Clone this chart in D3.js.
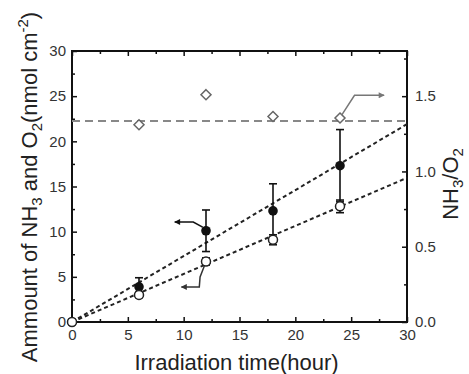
<!DOCTYPE html>
<html>
<head>
<meta charset="utf-8">
<script src="https://cdn.jsdelivr.net/npm/d3@7"></script>
<style>
  body { margin: 0; background: #fff; }
  svg { font-family: "Liberation Sans", Arial, sans-serif; }
  .tick text { fill: #333; font-size: 15px; }
  .tick line { stroke: #111; stroke-width: 1.5; }
</style>
</head>
<body>
<div id="vis"></div>
<script>
// values
var times = [0, 6, 12, 18, 24];
var nh3 = [0, 3.9, 10.1, 12.3, 17.3];
var nh3Err = [0, 1.0, 2.3, 3.0, 4.0];
var o2 = [0, 3.0, 6.7, 9.1, 12.8];
var o2Err = [0, 0.3, 0.4, 0.55, 0.7];
var ratioTimes = [6, 12, 18, 24];
var ratio = [1.31, 1.51, 1.365, 1.355];
var ratioMean = 1.335;
var nh3Slope = 0.73, o2Slope = 0.532;
var xTicks = [0, 5, 10, 15, 20, 25, 30];
var yTicks = [0, 5, 10, 15, 20, 25, 30];
var rTicks = [0, 0.5, 1.0, 1.5];
// annotation arrows (data coords, left axis)
var nh3Arrow = [[11.7, 10.5], [10.86, 11.07], [9.2, 11.07]];
var o2Arrow = [[11.85, 6.2], [11.47, 4.98], [11.4, 3.88], [9.8, 3.88]];
var ratioArrow = [[24.15, 22.9], [25.3, 25.1], [27.95, 25.1]];

var margin = {top: 51, right: 62, bottom: 52, left: 72},
    w = 469, h = 374,
    pw = w - margin.left - margin.right,
    ph = h - margin.top - margin.bottom;

var svg = d3.select("#vis").append("svg")
    .attr("width", w)
    .attr("height", h);

var defs = svg.append("defs");
function arrowHead(id, color) {
  defs.append("marker")
    .attr("id", id)
    .attr("viewBox", "0 0 10 10")
    .attr("refX", 9).attr("refY", 5)
    .attr("markerWidth", 9).attr("markerHeight", 6)
    .attr("markerUnits", "userSpaceOnUse")
    .attr("orient", "auto")
    .append("path").attr("d", "M0,0L10,5L0,10Z").attr("fill", color);
}
arrowHead("ahBlack", "#111");
arrowHead("ahDark", "#333");
arrowHead("ahGray", "#777");

var g = svg.append("g").attr("transform", "translate(" + margin.left + "," + margin.top + ")");

var x = d3.scaleLinear().domain([0, 30]).range([0, pw]);
var y = d3.scaleLinear().domain([0, 30]).range([ph, 0]);
var yr = d3.scaleLinear().domain([0, 1.8]).range([ph, 0]);

function minor(sc, step) {
  return d3.range(sc.domain()[0] + step, sc.domain()[1], step * 2);
}

// minor ticks
g.append("g").attr("transform", "translate(0," + ph + ")")
  .call(d3.axisBottom(x).tickValues(minor(x, 2.5)).tickSize(-3).tickFormat(""));
g.append("g")
  .call(d3.axisTop(x).tickValues(minor(x, 2.5)).tickSize(-3).tickFormat(""));
g.append("g")
  .call(d3.axisLeft(y).tickValues(minor(y, 2.5)).tickSize(-3).tickFormat(""));
g.append("g").attr("transform", "translate(" + pw + ",0)")
  .call(d3.axisRight(yr).tickValues(minor(yr, 0.25)).tickSize(-3).tickFormat(""));

// major ticks
g.append("g").attr("transform", "translate(0," + ph + ")")
  .call(d3.axisBottom(x).tickValues(xTicks).tickSize(-5).tickPadding(7).tickFormat(d3.format("d")));
g.append("g")
  .call(d3.axisTop(x).tickValues(xTicks).tickSize(-5).tickFormat(""));
g.append("g")
  .call(d3.axisLeft(y).tickValues(yTicks).tickSize(-5).tickPadding(6).tickFormat(d3.format("d")));
g.append("g").attr("transform", "translate(" + pw + ",0)")
  .call(d3.axisRight(yr).tickValues(rTicks).tickSize(-5).tickPadding(8).tickFormat(d3.format(".1f")));

g.selectAll(".domain").remove();

// frame
g.append("rect")
  .attr("width", pw).attr("height", ph)
  .attr("fill", "none").attr("stroke", "#111").attr("stroke-width", 2);

// mean ratio line
g.append("line")
  .attr("x1", x(0)).attr("x2", x(30))
  .attr("y1", yr(ratioMean)).attr("y2", yr(ratioMean))
  .attr("stroke", "#888").attr("stroke-width", 2)
  .attr("stroke-dasharray", "8,5");

// fit lines
[nh3Slope, o2Slope].forEach(function(s) {
  g.append("line")
    .attr("x1", x(0)).attr("y1", y(0))
    .attr("x2", x(30)).attr("y2", y(s * 30))
    .attr("stroke", "#222").attr("stroke-width", 2)
    .attr("stroke-dasharray", "4,3");
});

// error bars
function errBars(vals, errs) {
  var eb = g.append("g").attr("stroke", "#111").attr("stroke-width", 1.6);
  times.forEach(function(t, i) {
    if (!errs[i]) return;
    var x0 = x(t), y1 = y(vals[i] + errs[i]), y2 = y(vals[i] - errs[i]);
    eb.append("line").attr("x1", x0).attr("x2", x0).attr("y1", y1).attr("y2", y2);
    eb.append("line").attr("x1", x0 - 4).attr("x2", x0 + 4).attr("y1", y1).attr("y2", y1);
    eb.append("line").attr("x1", x0 - 4).attr("x2", x0 + 4).attr("y1", y2).attr("y2", y2);
  });
}
errBars(nh3, nh3Err);
errBars(o2, o2Err);

// filled circles (NH3)
g.selectAll("circle.nh3")
  .data(times.map(function(t, i) { return [t, nh3[i]]; }))
  .enter().append("circle")
  .attr("class", "nh3")
  .attr("cx", function(d) { return x(d[0]); })
  .attr("cy", function(d) { return y(d[1]); })
  .attr("r", 4.8)
  .attr("fill", "#111");

// open circles (O2)
g.selectAll("circle.o2")
  .data(times.map(function(t, i) { return [t, o2[i]]; }))
  .enter().append("circle")
  .attr("class", "o2")
  .attr("cx", function(d) { return x(d[0]); })
  .attr("cy", function(d) { return y(d[1]); })
  .attr("r", 4.5)
  .attr("fill", "#fff").attr("stroke", "#222").attr("stroke-width", 1.5);

// diamonds (ratio)
g.selectAll("path.ratio")
  .data(ratioTimes.map(function(t, i) { return [t, ratio[i]]; }))
  .enter().append("path")
  .attr("class", "ratio")
  .attr("d", "M0,-5L5,0L0,5L-5,0Z")
  .attr("transform", function(d) { return "translate(" + x(d[0]) + "," + yr(d[1]) + ")"; })
  .attr("fill", "#fff").attr("stroke", "#666").attr("stroke-width", 1.5);

// arrows
var line = d3.line().x(function(d) { return x(d[0]); }).y(function(d) { return y(d[1]); });
function arrow(pts, color, mk) {
  g.append("path").attr("d", line(pts))
    .attr("fill", "none").attr("stroke", color).attr("stroke-width", 1.5)
    .attr("marker-end", "url(#" + mk + ")");
}
arrow(nh3Arrow, "#111", "ahBlack");
arrow(o2Arrow, "#333", "ahDark");
arrow(ratioArrow, "#777", "ahGray");

// axis titles
svg.append("text")
  .attr("x", margin.left + pw / 2 - 3).attr("y", 370)
  .attr("text-anchor", "middle")
  .attr("font-size", 22).attr("fill", "#222")
  .text("Irradiation time(hour)");

var lt = svg.append("text")
  .attr("transform", "translate(37,187) rotate(-90)")
  .attr("text-anchor", "middle")
  .attr("font-size", 22).attr("fill", "#222");
lt.append("tspan").text("Ammount of NH");
lt.append("tspan").attr("font-size", 15).attr("dy", 5).text("3");
lt.append("tspan").attr("dy", -5).text(" and O");
lt.append("tspan").attr("font-size", 15).attr("dy", 5).text("2");
lt.append("tspan").attr("dy", -5).text("(nmol cm");
lt.append("tspan").attr("font-size", 15).attr("dy", -9).text("-2");
lt.append("tspan").attr("dy", 9).text(")");

var rt = svg.append("text")
  .attr("transform", "translate(458,184) rotate(-90)")
  .attr("text-anchor", "middle")
  .attr("font-size", 22).attr("fill", "#222");
rt.append("tspan").text("NH");
rt.append("tspan").attr("font-size", 15).attr("dy", 5).text("3");
rt.append("tspan").attr("dy", -5).text("/O");
rt.append("tspan").attr("font-size", 15).attr("dy", 5).text("2");
</script>
</body>
</html>
